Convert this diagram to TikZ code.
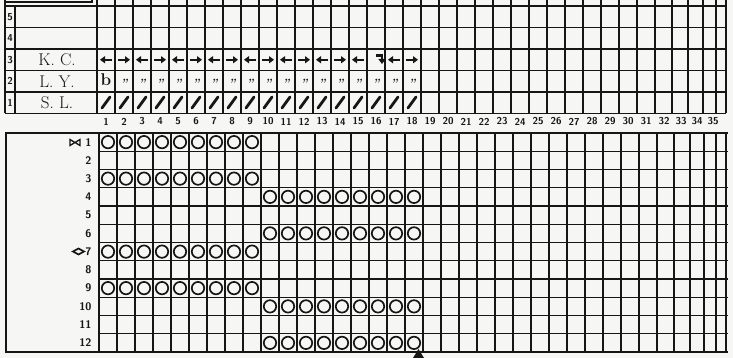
\documentclass[tikz,border=0pt]{standalone}
\usetikzlibrary{arrows.meta}
\definecolor{ink}{RGB}{22,22,22}
\definecolor{paper}{RGB}{246,246,244}

\begin{document}
\begin{tikzpicture}[x=1pt, y=-1pt,
    grid/.style={ink, line width=1.4pt},
    frame/.style={ink, line width=2.3pt},
    lbl/.style={ink, font=\fontsize{17}{17}\selectfont},
    num/.style={ink, font=\sffamily\bfseries\fontsize{10}{10}\selectfont},
    rownum/.style={ink, anchor=east, font=\sffamily\bfseries\fontsize{11}{11}\selectfont},
    ring/.style={ink, line width=1.7pt},
    arr/.style={ink, line width=2.3pt, -{Triangle[length=5pt, width=7pt]}},
    slash/.style={ink, line width=2.8pt, line cap=round}]
  \fill[paper] (0,0) rectangle (733,358);
  \useasboundingbox (0,0) rectangle (733,358);
  % top chart: frame and grid
  \draw[grid] (5,2) -- (92,2) -- (92,0);
  \foreach \y in {6,27.5,49,70.5,92,113.5}
    \draw[grid] (5,\y) -- (726,\y);
  \draw[frame] (5,0) -- (5,113.5);
  \draw[grid] (15,6) -- (15,113.5);
  \foreach \x in {97,115,...,655}
    \draw[grid] (\x,0) -- (\x,113.5);
  \foreach \x in {672,688,703,716,726}
    \draw[grid] (\x,0) -- (\x,113.5);
  % top chart: row numbers and labels
  \foreach \r/\y in {5/16.75,4/38.25,3/59.75,2/81.25,1/102.75}
    \node[num] (t\r) at (10,\y) {\r};
  \node[lbl] (kc) at (57,59.75) {K. C.};
  \node[lbl] (ly) at (57,81.25) {L. Y.};
  \node[lbl] (sl) at (57,102.75) {S. L.};
  % row 3: arrows
  \foreach \c in {1,3,...,17}
    \draw[arr] ({106+18*(\c-1)+6},59.75) -- ++(-12,0);
  \foreach \c in {2,4,...,14,18}
    \draw[arr] ({106+18*(\c-1)-6},59.75) -- ++(12,0);
  \draw[arr] (376,55.5) -- (382,55.5) -- (382,64);
  % row 2: b and ditto marks
  \node[ink, font=\bfseries\fontsize{17}{17}\selectfont] (b1) at (106,80) {b};
  \foreach \c in {2,...,18}
    \node[ink, font=\bfseries\itshape\fontsize{12}{12}\selectfont] (d\c) at ({106+18*(\c-1)},83) {''};
  % row 1: slashes
  \foreach \c in {1,...,18}
    \draw[slash] ({106+18*(\c-1)-4},108) -- ++(8,-11);
  % column numbers
  \foreach \c in {1,...,31}
    \node[num] (c\c) at ({106+18*(\c-1)},121.5) {\c};
  \foreach \c/\x in {32/664,33/681,34/697,35/713}
    \node[num] (c\c) at (\x,121.5) {\c};
  % bottom chart: frame and grid
  \foreach \r in {1,...,11}
    \draw[grid] (99,{133+18.25*\r}) -- (728,{133+18.25*\r});
  \draw[frame] (728,133) -- (6,133) -- (6,352) -- (728,352);
  \foreach \x in {99,117,...,657}
    \draw[grid] (\x,133) -- (\x,352);
  \foreach \x in {674,690,704,716,726}
    \draw[grid] (\x,133) -- (\x,352);
  % bottom chart: row numbers
  \foreach \r in {1,...,12}
    \node[rownum] (r\r) at (95,{133+18.25*(\r-0.5)}) {\r};
  \draw[ink, line width=1.3pt] (70,139.5) -- (70,145.5) -- (80,139.5) -- (80,145.5) -- cycle;
  \draw[ink, line width=1.7pt] (73,251.5) -- (78.5,248.5) -- (84,251.5) -- (78.5,254.5) -- cycle;
  % bottom chart: rings
  \foreach \r in {1,3,7,9}
    \foreach \c in {1,...,9}
      \draw[ring] ({90+18*\c},{133+18.25*(\r-0.5)}) circle[radius=6.2];
  \foreach \r in {4,6,10,12}
    \foreach \c in {10,...,18}
      \draw[ring] ({90+18*\c},{133+18.25*(\r-0.5)}) circle[radius=6.2];
  % marker under the chart
  \fill[ink] (413,358) -- (418.5,349) -- (424,358) -- cycle;
\end{tikzpicture}
\end{document}
